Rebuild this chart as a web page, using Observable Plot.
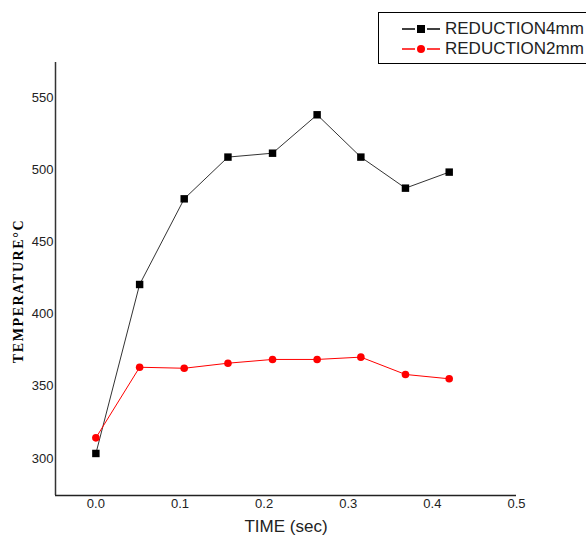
<!DOCTYPE html>
<html>
<head>
<meta charset="utf-8">
<script src="https://cdn.jsdelivr.net/npm/d3@7"></script>
<script src="https://cdn.jsdelivr.net/npm/@observablehq/plot@0.6"></script>
<style>
  html, body { margin: 0; padding: 0; background: #fff; overflow: hidden; }
  #wrap { position: relative; width: 586px; height: 539px; overflow: hidden; }
  #chart svg g[aria-label="y-axis label"] text {
    font-family: "Liberation Serif", "DejaVu Serif", serif;
    font-weight: bold; font-size: 14px; letter-spacing: 1.6px; fill: #000;
    translate: 2px 12px;
  }
  #chart svg g[aria-label="x-axis label"] text {
    font-family: "Liberation Sans", Arial, sans-serif;
    font-size: 17px; fill: #222;
  }
  #legend {
    position: absolute; left: 378px; top: 12px; width: 240px; height: 50px;
    border: 1.5px solid #000; background: #fff;
    font-family: "Liberation Sans", Arial, sans-serif; font-size: 17px; color: #222;
  }
  .row { position: absolute; left: 0; height: 20px; display: flex; align-items: center; }
  .row svg { margin-left: 23px; }
  .row span { margin-left: 5px; }
</style>
</head>
<body>
<div id="wrap">
  <div id="chart"></div>
  <div id="legend"></div>
</div>
<script>
const time = [0, 0.052, 0.105, 0.157, 0.21, 0.263, 0.315, 0.368, 0.42];
const reduction4mm = [303.5, 420.5, 479.8, 508.7, 511.4, 538, 508.7, 487.2, 498.3];
const reduction2mm = [314.3, 363.2, 362.5, 366, 368.6, 368.6, 370.2, 358.2, 355.2];
const xTicks = [0, 0.1, 0.2, 0.3, 0.4, 0.5];
const yTicks = [300, 350, 400, 450, 500, 550];
const xDomain = [-0.048, 0.5];
const yDomain = [274.4, 574.2];
const seriesNames = ["REDUCTION4mm", "REDUCTION2mm"];
const seriesColors = ["#000000", "#ff0000"];

const d4 = time.map((t, i) => ({t, v: reduction4mm[i]}));
const d2 = time.map((t, i) => ({t, v: reduction2mm[i]}));

const chart = Plot.plot({
  width: 586, height: 539,
  marginLeft: 55, marginRight: 70, marginTop: 62, marginBottom: 44,
  style: {fontFamily: "'Liberation Sans', Arial, sans-serif", fontSize: "13px", background: "#fff"},
  x: {domain: xDomain},
  y: {domain: yDomain},
  marks: [
    Plot.axisX({ticks: xTicks, tickSize: 0, tickPadding: 3, tickFormat: d3.format(".1f"), fill: "#222",
      label: "TIME (sec)", labelAnchor: "center", labelArrow: "none", labelOffset: 36}),
    Plot.axisY({ticks: yTicks, tickSize: 0, tickPadding: 2, fill: "#222",
      label: "TEMPERATURE°C", labelAnchor: "center", labelArrow: "none", labelOffset: 44}),
    Plot.ruleX([xDomain[0]], {stroke: "#333", strokeWidth: 1.5}),
    Plot.ruleY([yDomain[0]], {stroke: "#222", strokeWidth: 1.5}),
    Plot.line(d4, {x: "t", y: "v", stroke: seriesColors[0], strokeWidth: 1, strokeOpacity: 0.8}),
    Plot.line(d2, {x: "t", y: "v", stroke: seriesColors[1], strokeWidth: 1}),
    Plot.dot(d4, {x: "t", y: "v", symbol: "square", r: 4.2, fill: seriesColors[0], stroke: "none"}),
    Plot.dot(d2, {x: "t", y: "v", symbol: "circle", r: 3.8, fill: seriesColors[1], stroke: "none"})
  ]
});
document.getElementById("chart").appendChild(chart);

const legend = document.getElementById("legend");
seriesNames.forEach((name, i) => {
  const row = document.createElement("div");
  row.className = "row";
  row.style.top = (6 + i * 20) + "px";
  const marker = i === 0
    ? `<rect x="15" y="6" width="8" height="8" fill="${seriesColors[i]}"/>`
    : `<circle cx="19" cy="10" r="4" fill="${seriesColors[i]}"/>`;
  row.innerHTML = `<svg width="38" height="20"><line x1="0" x2="13" y1="10" y2="10" stroke="${seriesColors[i]}" stroke-width="1.5"/><line x1="25" x2="38" y1="10" y2="10" stroke="${seriesColors[i]}" stroke-width="1.5"/>${marker}</svg><span>${name}</span>`;
  legend.appendChild(row);
});
</script>
</body>
</html>
